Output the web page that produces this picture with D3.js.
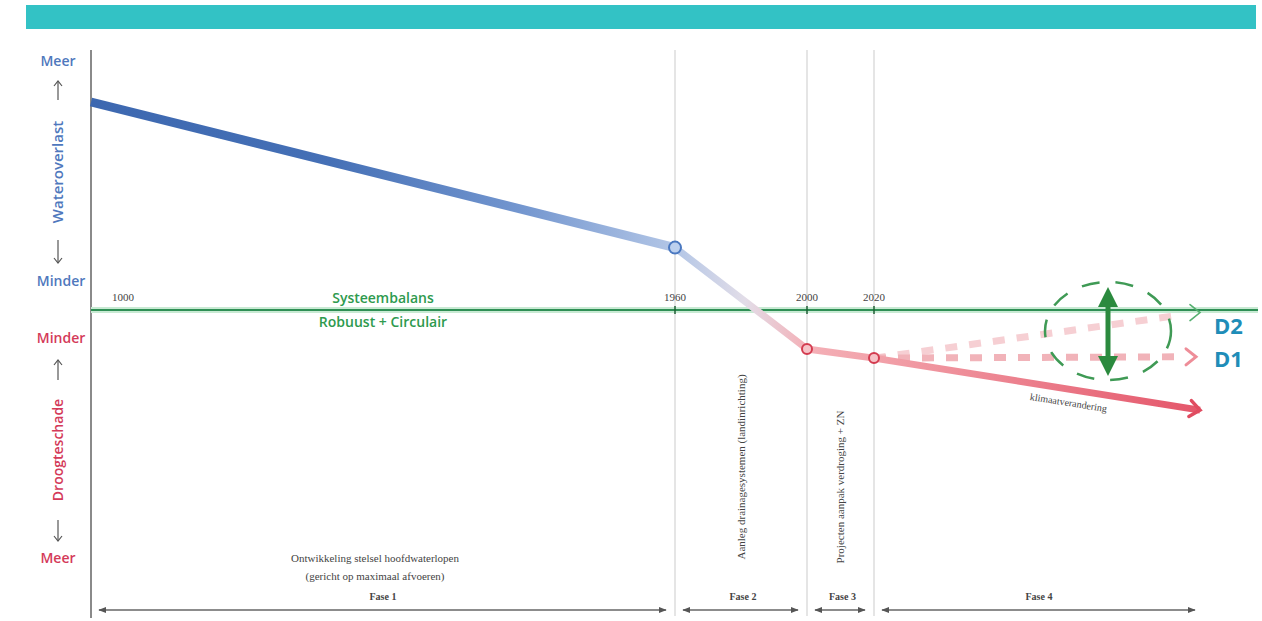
<!DOCTYPE html>
<html>
<head>
<meta charset="utf-8">
<script src="https://cdn.jsdelivr.net/npm/d3@7"></script>
<style>
  body { margin: 0; background: #fff; }
  svg { display: block; }
  .serif { font-family: "Liberation Serif", "DejaVu Serif", serif; fill: #444; }
  .sans { font-family: "Open Sans", "Noto Sans", sans-serif; }
</style>
</head>
<body>
<div id="chart"></div>
<script>
// years that anchor the (non linear) time axis
var years = [1000, 1960, 2000, 2020, 2100];
var yearLabels = ['1000', '1960', '2000', '2020'];
// balance index: + = wateroverlast, - = droogteschade
var trend = [0.80, 0.24, -0.15, -0.185, -0.385];
var d1Years = [2020, 2100];
var d1Values = [-0.185, -0.18];
var d2Years = [2020, 2100];
var d2Values = [-0.185, -0.01];
var phaseNames = ['Fase 1', 'Fase 2', 'Fase 3', 'Fase 4'];
var phaseStart = [1000, 1960, 2000, 2020];
var phaseEnd = [1960, 2000, 2020, 2100];

var width = 1262, height = 621;

var svg = d3.select('#chart').append('svg')
    .attr('width', width)
    .attr('height', height);

var x = d3.scaleLinear()
    .domain(years)
    .range([91, 675, 807, 874, 1200]);

var y = d3.scaleLinear()
    .domain([-1, 1])
    .range([570, 50]);

var defs = svg.append('defs');

// header band
svg.append('rect')
    .attr('x', 26).attr('y', 5)
    .attr('width', 1230).attr('height', 24)
    .attr('fill', '#33c2c5');

// vertical year guides
svg.selectAll('.guide')
  .data(years.slice(1, 4))
  .enter().append('line')
    .attr('class', 'guide')
    .attr('x1', function(d) { return x(d); })
    .attr('x2', function(d) { return x(d); })
    .attr('y1', 50).attr('y2', 616)
    .attr('stroke', '#d4d4d4')
    .attr('stroke-width', 1.2);

// y axis line
svg.append('line')
    .attr('x1', 91).attr('x2', 91)
    .attr('y1', 50).attr('y2', 618)
    .attr('stroke', '#8a8a8a')
    .attr('stroke-width', 2);

// balance line (y = 0)
svg.append('line')
    .attr('x1', 91).attr('x2', 1258)
    .attr('y1', y(0)).attr('y2', y(0))
    .attr('stroke', '#c8ead3')
    .attr('stroke-width', 6);
svg.append('line')
    .attr('x1', 91).attr('x2', 1258)
    .attr('y1', y(0)).attr('y2', y(0))
    .attr('stroke', '#2f8f55')
    .attr('stroke-width', 2.2);
svg.selectAll('.tick')
  .data(years.slice(1, 4))
  .enter().append('line')
    .attr('x1', function(d) { return x(d); })
    .attr('x2', function(d) { return x(d); })
    .attr('y1', y(0) - 4).attr('y2', y(0) + 4)
    .attr('stroke', '#1f5f35')
    .attr('stroke-width', 1.5);

// year labels
svg.selectAll('.yr')
  .data(yearLabels)
  .enter().append('text')
    .attr('class', 'serif')
    .attr('x', function(d, i) { return i == 0 ? 123 : x(years[i]); })
    .attr('y', 301)
    .attr('text-anchor', 'middle')
    .style('font-size', '11px')
    .text(function(d) { return d; });

svg.append('text').attr('class', 'sans')
    .attr('x', 383).attr('y', 303)
    .attr('text-anchor', 'middle')
    .attr('fill', '#2e9a4e')
    .style('font-size', '14px').style('font-weight', 600)
    .text('Systeembalans');
svg.append('text').attr('class', 'sans')
    .attr('x', 383).attr('y', 327)
    .attr('text-anchor', 'middle')
    .attr('fill', '#2e9a4e')
    .style('font-size', '14px').style('font-weight', 600)
    .text('Robuust + Circulair');

// gradient for the main trend
var grad = defs.append('linearGradient')
    .attr('id', 'trend-grad')
    .attr('gradientUnits', 'userSpaceOnUse')
    .attr('x1', 91).attr('x2', 1200).attr('y1', 0).attr('y2', 0);
var stops = [
  [91, '#3d68b0'], [330, '#4570b6'], [520, '#7396cf'], [675, '#b3c6e6'],
  [745, '#e2dde8'], [807, '#f4b0b7'], [874, '#f2a2aa'], [1200, '#e4566a']
];
grad.selectAll('stop')
  .data(stops)
  .enter().append('stop')
    .attr('offset', function(d) { return (d[0] - 91) / (1200 - 91); })
    .attr('stop-color', function(d) { return d[1]; });

var line = d3.line()
    .x(function(d) { return x(d[0]); })
    .y(function(d) { return y(d[1]); });

var trendPts = years.map(function(d, i) { return [d, trend[i]]; });

// dashed scenario lines
var d2Pts = d2Years.map(function(d, i) { return [d, d2Values[i]]; });
var d1Pts = d1Years.map(function(d, i) { return [d, d1Values[i]]; });
svg.append('path')
    .attr('d', line([d2Pts[0], [2095, d2Values[1] - 0.01]]))
    .attr('fill', 'none')
    .attr('stroke', '#f6cfd3')
    .attr('stroke-width', 7)
    .attr('stroke-dasharray', '12,12');
svg.append('path')
    .attr('d', line([d1Pts[0], [2095, d1Values[1]]]))
    .attr('fill', 'none')
    .attr('stroke', '#f1b3b9')
    .attr('stroke-width', 7)
    .attr('stroke-dasharray', '12,12');

function chevron(px, py, angle, color, w) {
  svg.append('path')
    .attr('d', 'M-10,-8 L0,0 L-10,8')
    .attr('transform', 'translate(' + px + ',' + py + ') rotate(' + angle + ')')
    .attr('fill', 'none')
    .attr('stroke', color)
    .attr('stroke-width', w)
    .attr('stroke-linecap', 'round');
}
chevron(x(2100), y(d2Values[1]), 0, '#55b070', 1.6);
chevron(x(2100) - 4, y(d1Values[1]), 0, '#ee8d98', 3);

// main trend line
svg.append('path')
    .attr('d', line(trendPts.slice(0, 2)))
    .attr('fill', 'none')
    .attr('stroke', 'url(#trend-grad)')
    .attr('stroke-width', 9);
svg.append('path')
    .attr('d', line(trendPts.slice(1)))
    .attr('fill', 'none')
    .attr('stroke', 'url(#trend-grad)')
    .attr('stroke-width', 7)
    .attr('stroke-linejoin', 'round');
var endAngle = Math.atan2(y(trend[4]) - y(trend[3]), x(2100) - x(2020)) * 180 / Math.PI;
chevron(x(2100), y(trend[4]), endAngle, '#e04c60', 3.5);

// markers
svg.append('circle')
    .attr('cx', x(1960)).attr('cy', y(trend[1])).attr('r', 6)
    .attr('fill', '#bcd0ee').attr('stroke', '#4a78c0').attr('stroke-width', 2);
svg.selectAll('.dot')
  .data(trendPts.slice(2, 4))
  .enter().append('circle')
    .attr('cx', function(d) { return x(d[0]); })
    .attr('cy', function(d) { return y(d[1]); })
    .attr('r', 5)
    .attr('fill', '#f6c2c7').attr('stroke', '#d33b4f').attr('stroke-width', 2);

svg.append('text').attr('class', 'serif')
    .attr('transform', 'translate(1068,406) rotate(' + endAngle + ')')
    .attr('text-anchor', 'middle')
    .style('font-size', '10px')
    .text('klimaatverandering');

// uncertainty ellipse + double arrow
svg.append('ellipse')
    .attr('cx', 1108).attr('cy', 331)
    .attr('rx', 63).attr('ry', 49)
    .attr('fill', 'none')
    .attr('stroke', '#3f9a55')
    .attr('stroke-width', 2.5)
    .attr('stroke-dasharray', '18,16');
defs.append('marker')
    .attr('id', 'garrow')
    .attr('viewBox', '0 0 10 10')
    .attr('refX', 5).attr('refY', 5)
    .attr('markerWidth', 4).attr('markerHeight', 4)
    .attr('orient', 'auto-start-reverse')
  .append('path')
    .attr('d', 'M0,0 L10,5 L0,10 z')
    .attr('fill', '#2b8a3e');
svg.append('line')
    .attr('x1', 1108).attr('x2', 1108)
    .attr('y1', 297).attr('y2', 366)
    .attr('stroke', '#2b8a3e')
    .attr('stroke-width', 5)
    .attr('marker-start', 'url(#garrow)')
    .attr('marker-end', 'url(#garrow)');

svg.append('text').attr('class', 'sans')
    .attr('x', 1214).attr('y', 334)
    .attr('fill', '#1f8db8')
    .style('font-size', '22px').style('font-weight', 700)
    .text('D2');
svg.append('text').attr('class', 'sans')
    .attr('x', 1214).attr('y', 367)
    .attr('fill', '#1f8db8')
    .style('font-size', '22px').style('font-weight', 700)
    .text('D1');

// left side labels
function sideLabel(txt, px, py, color) {
  svg.append('text').attr('class', 'sans')
    .attr('x', px).attr('y', py)
    .attr('text-anchor', 'middle')
    .attr('fill', color)
    .style('font-size', '14px').style('font-weight', 600)
    .text(txt);
}
sideLabel('Meer', 58, 66, '#4f78bd');
sideLabel('Minder', 61, 286, '#4f78bd');
sideLabel('Minder', 61, 343, '#d43a59');
sideLabel('Meer', 58, 563, '#d43a59');

function sideArrow(px, py1, py2) {
  svg.append('line')
    .attr('x1', px).attr('x2', px)
    .attr('y1', py1).attr('y2', py2)
    .attr('stroke', '#555').attr('stroke-width', 1.2);
  var dir = py2 < py1 ? 1 : -1;
  svg.append('path')
    .attr('d', 'M' + (px - 4) + ',' + (py2 + dir * 5) + ' L' + px + ',' + py2 + ' L' + (px + 4) + ',' + (py2 + dir * 5))
    .attr('fill', 'none').attr('stroke', '#555').attr('stroke-width', 1.2);
}
sideArrow(58, 100, 81);
sideArrow(58, 240, 263);
sideArrow(58, 380, 360);
sideArrow(58, 520, 541);

svg.append('text').attr('class', 'sans')
    .attr('transform', 'translate(63,172) rotate(-90)')
    .attr('text-anchor', 'middle')
    .attr('fill', '#4f78bd')
    .style('font-size', '15px').style('font-weight', 600)
    .text('Wateroverlast');
svg.append('text').attr('class', 'sans')
    .attr('transform', 'translate(63,450) rotate(-90)')
    .attr('text-anchor', 'middle')
    .attr('fill', '#d43a59')
    .style('font-size', '14px').style('font-weight', 600)
    .text('Droogteschade');

// phases
defs.append('marker')
    .attr('id', 'parrow')
    .attr('viewBox', '0 0 10 10')
    .attr('refX', 9).attr('refY', 5)
    .attr('markerWidth', 6).attr('markerHeight', 6)
    .attr('orient', 'auto-start-reverse')
  .append('path')
    .attr('d', 'M0,1 L10,5 L0,9 z')
    .attr('fill', '#555');

var phases = svg.selectAll('.phase')
  .data(phaseNames)
  .enter().append('g')
    .attr('class', 'phase');
phases.append('line')
    .attr('x1', function(d, i) { return x(phaseStart[i]) + 8; })
    .attr('x2', function(d, i) { return x(phaseEnd[i]) - (i == 3 ? 5 : 9); })
    .attr('y1', 610).attr('y2', 610)
    .attr('stroke', '#666').attr('stroke-width', 1.3)
    .attr('marker-start', 'url(#parrow)')
    .attr('marker-end', 'url(#parrow)');
phases.append('text')
    .attr('class', 'serif')
    .attr('x', function(d, i) { return (x(phaseStart[i]) + x(phaseEnd[i])) / 2 + (i == 0 ? 0 : 2); })
    .attr('y', 600)
    .attr('text-anchor', 'middle')
    .style('font-size', '10px').style('font-weight', 700)
    .text(function(d) { return d; });

svg.append('text').attr('class', 'serif')
    .attr('x', 375).attr('y', 562)
    .attr('text-anchor', 'middle')
    .style('font-size', '11px')
    .text('Ontwikkeling stelsel hoofdwaterlopen');
svg.append('text').attr('class', 'serif')
    .attr('x', 375).attr('y', 580)
    .attr('text-anchor', 'middle')
    .style('font-size', '11px')
    .text('(gericht op maximaal afvoeren)');
svg.append('text').attr('class', 'serif')
    .attr('transform', 'translate(745,467) rotate(-90)')
    .attr('text-anchor', 'middle')
    .style('font-size', '11px')
    .text('Aanleg drainagesystemen (landinrichting)');
svg.append('text').attr('class', 'serif')
    .attr('transform', 'translate(844,487) rotate(-90)')
    .attr('text-anchor', 'middle')
    .style('font-size', '11px')
    .text('Projecten aanpak verdroging + ZN');
</script>
</body>
</html>
